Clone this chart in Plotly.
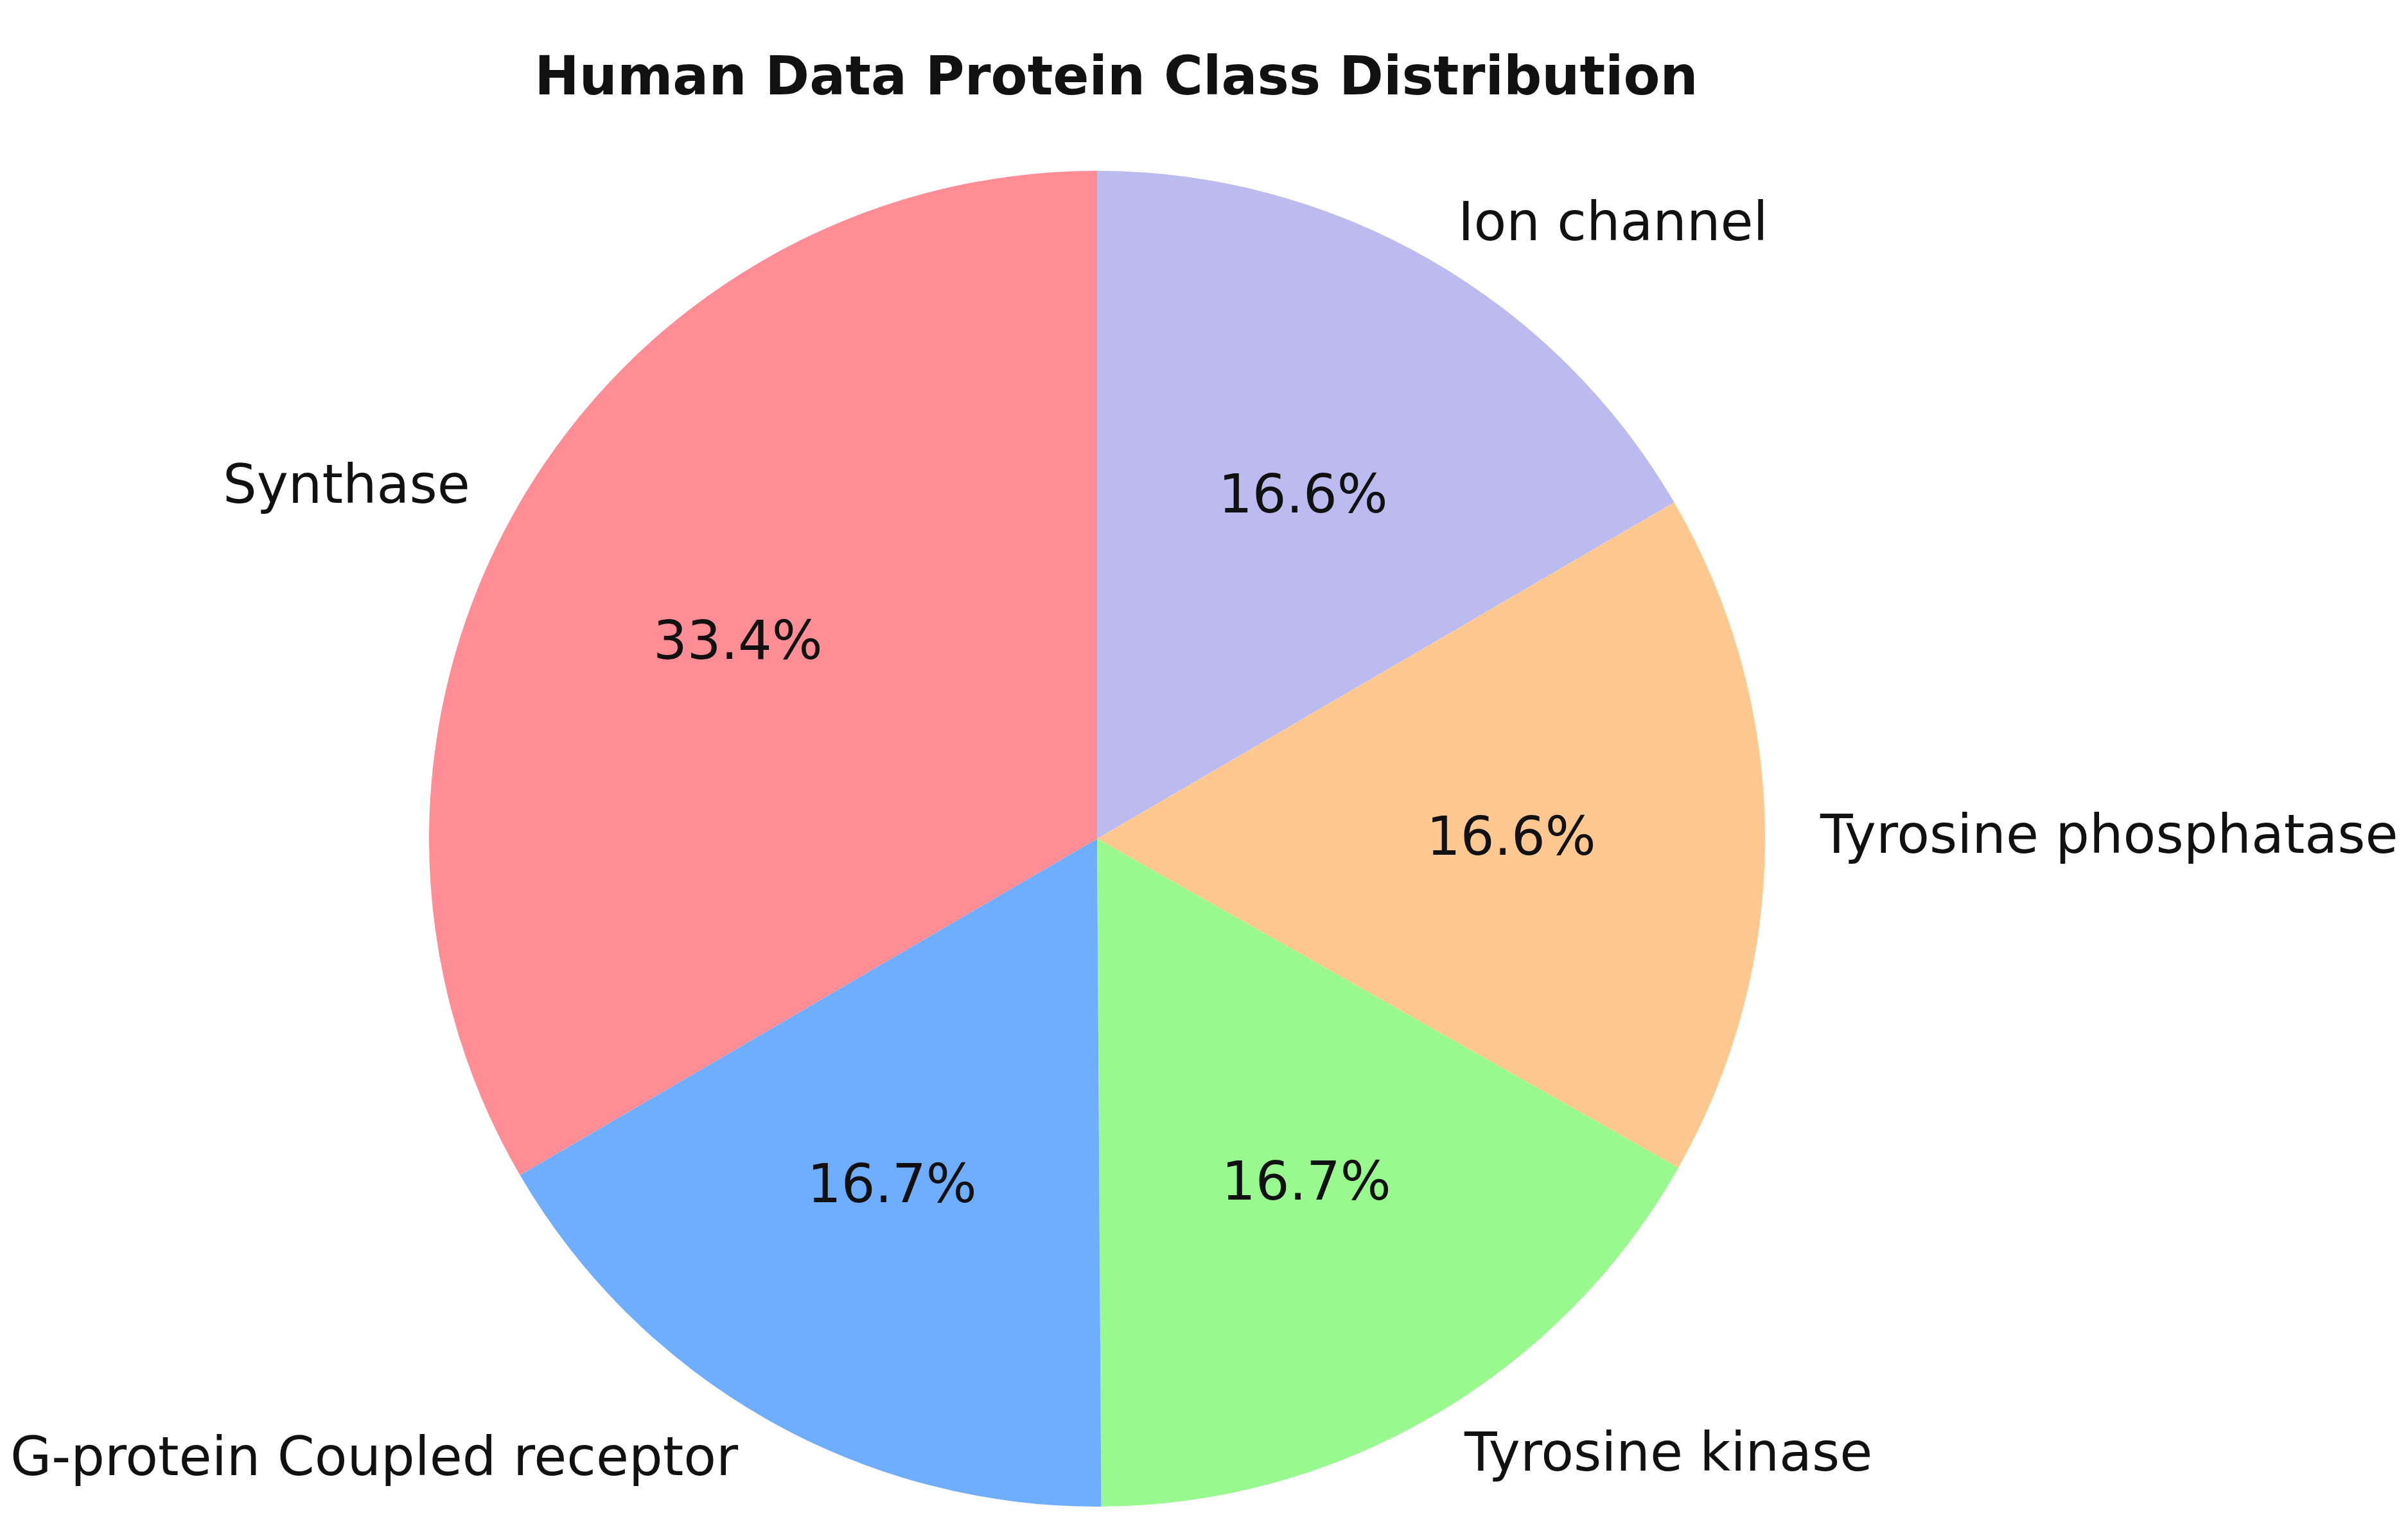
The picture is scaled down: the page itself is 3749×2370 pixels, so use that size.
import math
import plotly.graph_objects as go

# ---- data ----
labels = ["Synthase", "G-protein Coupled receptor", "Tyrosine kinase",
          "Tyrosine phosphatase", "Ion channel"]
values = [33.4, 16.7, 16.7, 16.6, 16.6]
colors = ["#FE8D96", "#6FADFE", "#98F98F", "#FFC890", "#BBBBF0"]
title_text = "Human Data Protein Class Distribution"

# ---- geometry ----
W, H = 3749, 2370
cx, cy = 1700, 1298          # pie centre in pixels (from top-left)
R = 1040                     # pie radius in pixels
label_dx, label_dy = 1.08, 1.065
pct_dx, pct_dy = 0.62, 0.595
font_family = "DejaVu Sans"
txt_size = 83

dom_x = [(cx - R) / W, (cx + R) / W]
dom_y = [(H - cy - R) / H, (H - cy + R) / H]

# Slices run counter-clockwise from 12 o'clock (Synthase first); drawing the
# reversed order clockwise from 12 o'clock gives exactly that arrangement.
fig = go.Figure(go.Pie(
    labels=labels[::-1],
    values=values[::-1],
    marker=dict(colors=colors[::-1], line=dict(width=0)),
    sort=False,
    direction="clockwise",
    rotation=0,
    textinfo="none",
    hoverinfo="label+percent",
    domain=dict(x=dom_x, y=dom_y),
    showlegend=False,
))

total = sum(values)
annotations = []
cum = 0.0
for lab, v in zip(labels, values):
    mid = math.radians(90 + 360 * (cum + v / 2) / total)
    cum += v
    c, s = math.cos(mid), math.sin(mid)
    # percentage text inside
    px = cx + pct_dx * R * c
    py = cy - pct_dy * R * s
    annotations.append(dict(
        x=px / W, y=1 - py / H, xref="paper", yref="paper",
        text=f"{v / total * 100:.1f}%", showarrow=False,
        xanchor="center", yanchor="middle",
        font=dict(family=font_family, size=txt_size, color="#111111"),
    ))
    # category label outside
    lx = cx + label_dx * R * c
    ly = cy - label_dy * R * s
    annotations.append(dict(
        x=lx / W, y=1 - ly / H, xref="paper", yref="paper",
        text=lab, showarrow=False,
        xanchor="left" if c > 0.01 else ("right" if c < -0.01 else "center"),
        yanchor="middle",
        font=dict(family=font_family, size=txt_size, color="#111111"),
    ))

fig.update_layout(
    width=W, height=H,
    margin=dict(l=0, r=0, t=0, b=0),
    paper_bgcolor="white",
    plot_bgcolor="white",
    title=dict(
        text=f"<b>{title_text}</b>",
        x=1730 / W, xanchor="center",
        y=1 - 110 / H, yanchor="middle",
        font=dict(family=font_family, size=83, color="#111111"),
    ),
    annotations=annotations,
)

fig.write_html("out.html")
